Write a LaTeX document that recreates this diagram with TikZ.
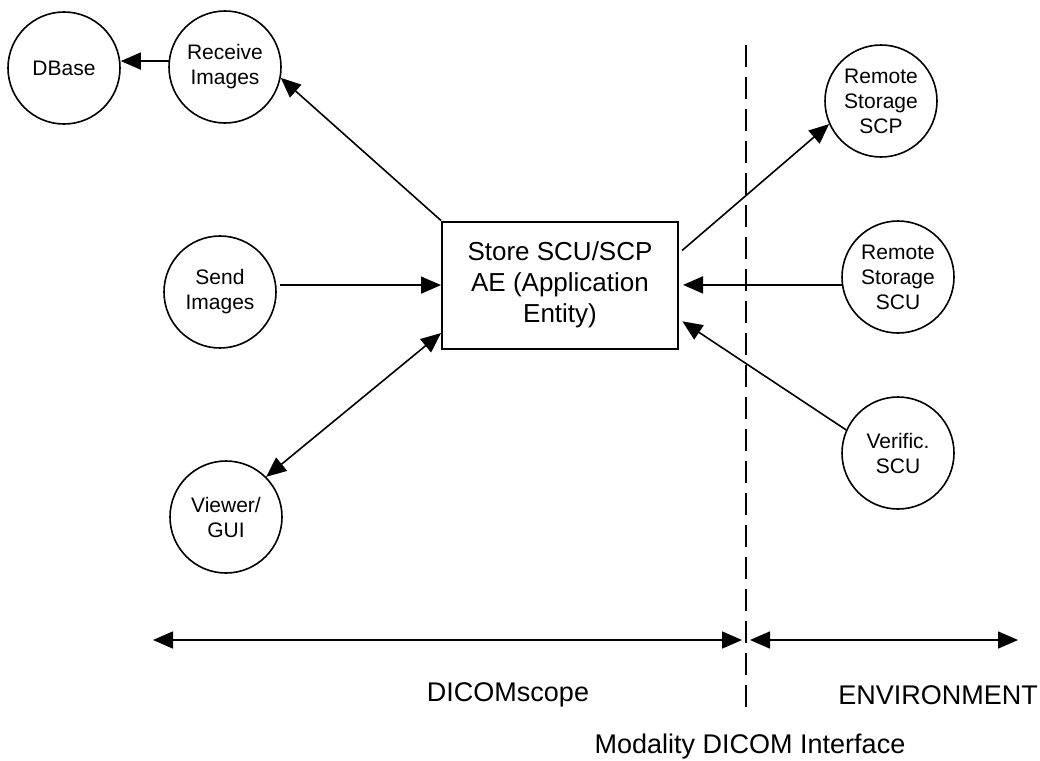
\documentclass[tikz,border=0pt]{standalone}
\usepackage{fontspec}
\setmainfont{Liberation Sans}
\usetikzlibrary{arrows.meta}
\tikzset{%
  proc/.style={draw, circle, minimum size=112pt, inner sep=0pt, line width=1.6pt,
    align=center, font=\fontsize{21}{25}\selectfont},
  entity/.style={draw, rectangle, minimum width=236pt, minimum height=127pt,
    line width=2pt, align=center, font=\fontsize{26}{31}\selectfont},
  edge/.style={line width=1.6pt},
  move/.style={edge, -{Triangle[length=20pt,width=17pt]}},
  twoway/.style={edge, {Triangle[length=20pt,width=17pt]}-{Triangle[length=20pt,width=17pt]}},
  iface/.style={line width=2.4pt, dash pattern=on 22pt off 10pt},
  label text/.style={font=\fontsize{27}{32}\selectfont}
}
\begin{document}
\begin{tikzpicture}[x=1pt, y=-1pt]
  \useasboundingbox (0,0) rectangle (1040,760);

  \node[entity] (ae) at (560,285) {Store SCU/SCP\\AE (Application\\Entity)};

  \node[proc] (dbase)  at (64,68)   {DBase};
  \node[proc] (recv)   at (225,67)  {Receive\\Images};
  \node[proc] (send)   at (220,292) {Send\\Images};
  \node[proc] (viewer) at (226,517) {Viewer/\\GUI};

  \node[proc] (rscp)  at (881,101) {Remote\\Storage\\SCP};
  \node[proc] (rscu)  at (898,277) {Remote\\Storage\\SCU};
  \node[proc] (verif) at (898,453) {Verific.\\SCU};

  \draw[move] (recv.174) -- (recv.174 -| dbase.east);
  \draw[move] (ae.north west) -- (recv.-11);
  \draw[move,shorten <=4pt] (send.7) -- (send.7 -| ae.west);
  \draw[twoway] (viewer.45) -- (ae.202);

  \draw[move,shorten <=4pt] (ae.15) -- (rscp.204);
  \draw[move,shorten >=4pt] (rscu.188) -- (rscu.188 -| ae.east);
  \draw[move,shorten >=4pt] (verif.156) -- (ae.-16);

  % interface line and scopes
  \coordinate (itop) at (746,45);
  \coordinate (ibot) at (746,712);
  \draw[iface] (itop) -- (ibot);

  \coordinate (sleft)  at (153,640);
  \coordinate (smid)   at (746,640);
  \coordinate (sright) at (1018,640);
  \draw[twoway] (sleft) -- ([xshift=-4pt]smid);
  \draw[twoway] ([xshift=4pt]smid) -- (sright);

  \node[label text] (scope) at (508,695) {DICOMscope};
  \node[label text] (env)   at (938,695) {ENVIRONMENT};
  \node[label text] (iname) at (750,747) {Modality DICOM Interface};
\end{tikzpicture}
\end{document}
